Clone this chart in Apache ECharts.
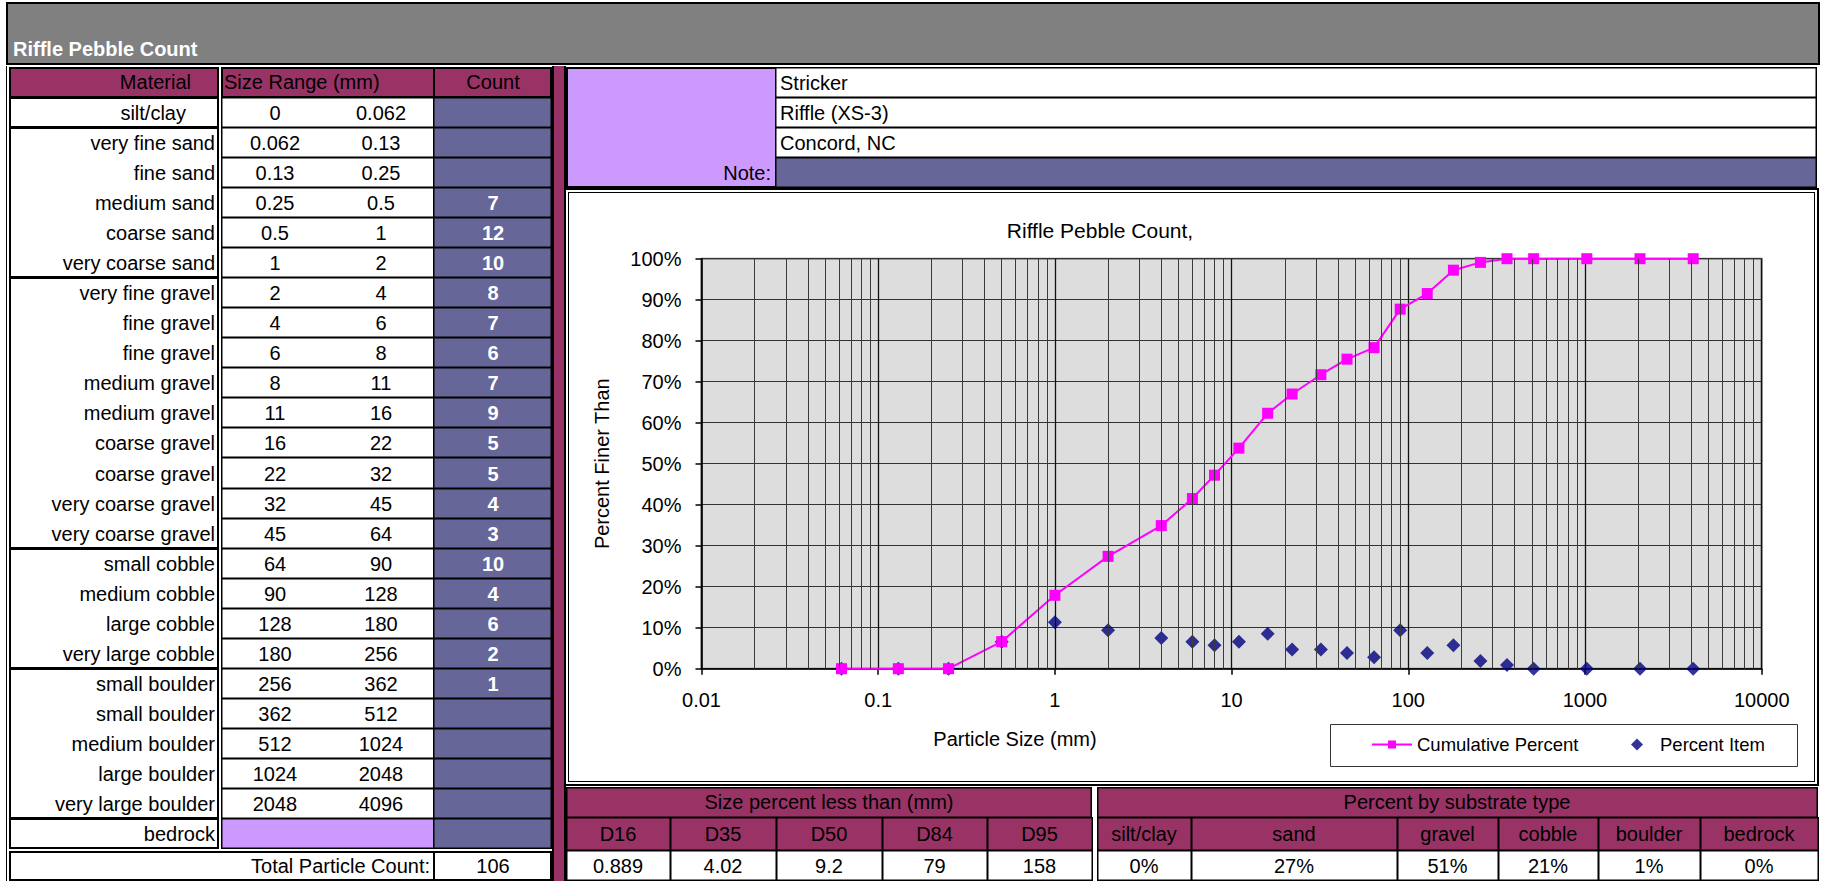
<!DOCTYPE html>
<html>
<head>
<meta charset="utf-8">
<title>Riffle Pebble Count</title>
<script src="https://cdn.jsdelivr.net/npm/echarts@6/dist/echarts.min.js"></script>
<style>
html,body{margin:0;padding:0;background:#fff;}
#page{position:relative;width:1826px;height:881px;overflow:hidden;font-family:'Liberation Sans',Arial,sans-serif;font-size:20px;color:#000;}
.c{position:absolute;box-sizing:border-box;box-shadow:inset 0 0 0 1px #000;}
.t{position:absolute;white-space:nowrap;line-height:1;}
#chart{position:absolute;left:0;top:0;width:1826px;height:881px;z-index:5;}
</style>
</head>
<body>
<div id="page"><div id="chart"></div></div>
<script>
// ---------------- DATA ----------------
const sheetTitle = 'Riffle Pebble Count';
const materials = ['silt/clay','very fine sand','fine sand','medium sand','coarse sand','very coarse sand',
  'very fine gravel','fine gravel','fine gravel','medium gravel','medium gravel','coarse gravel','coarse gravel',
  'very coarse gravel','very coarse gravel','small cobble','medium cobble','large cobble','very large cobble',
  'small boulder','small boulder','medium boulder','large boulder','very large boulder','bedrock'];
const sizeMin = ['0','0.062','0.13','0.25','0.5','1','2','4','6','8','11','16','22','32','45','64','90','128','180','256','362','512','1024','2048'];
const sizeMax = ['0.062','0.13','0.25','0.5','1','2','4','6','8','11','16','22','32','45','64','90','128','180','256','362','512','1024','2048','4096'];
const counts = ['','','','7','12','10','8','7','6','7','9','5','5','4','3','10','4','6','2','1','','','','',''];
const totalCount = '106';
const infoLines = ['Stricker','Riffle (XS-3)','Concord, NC'];
const dLabels = ['D16','D35','D50','D84','D95'];
const dValues = ['0.889','4.02','9.2','79','158'];
const substrateLabels = ['silt/clay','sand','gravel','cobble','boulder','bedrock'];
const substrateValues = ['0%','27%','51%','21%','1%','0%'];

// chart data
const particleSize = [0.062,0.13,0.25,0.5,1,2,4,6,8,11,16,22,32,45,64,90,128,180,256,362,512,1024,2048,4096];
const cumulativePercent = [0,0,0,6.6,17.9,27.4,34.9,41.5,47.2,53.8,62.3,67.0,71.7,75.5,78.3,87.7,91.5,97.2,99.1,100,100,100,100,100];
const percentItem = [0,0,0,6.6,11.3,9.4,7.5,6.6,5.7,6.6,8.5,4.7,4.7,3.8,2.8,9.4,3.8,5.7,1.9,0.9,0,0,0,0];
const chartTitle = 'Riffle Pebble Count,';
const xTitle = 'Particle Size (mm)';
const yTitle = 'Percent Finer Than';
const seriesNames = ['Cumulative Percent','Percent Item'];
const xTickLabels = ['0.01','0.1','1','10','100','1000','10000'];
const minorMultipliers = [2,3,4,5,6,7,8,9];

// ---------------- SPREADSHEET (HTML) ----------------
const MAROON='#993366', BLUE='#666699', LAV='#CC99FF', GRAY='#808080';
const page = document.getElementById('page');
function rect(x,y,w,h,bg,extra){
  const d=document.createElement('div'); d.className='c';
  Object.assign(d.style,{left:x+'px',top:y+'px',width:w+'px',height:h+'px',background:bg||'transparent'});
  if(extra) Object.assign(d.style,extra);
  page.appendChild(d); return d;
}
function text(str,x,y,align,style){
  const d=document.createElement('div'); d.className='t'; d.textContent=str;
  const tx = align==='center'?'-50%':(align==='right'?'-100%':'0');
  Object.assign(d.style,{left:x+'px',top:y+'px',transform:'translate('+tx+',-50%)'}, style||{});
  page.appendChild(d); return d;
}
// title bar
rect(6,2,1814,63,GRAY,{boxShadow:'inset 0 0 0 2px #000'});
text(sheetTitle,13,49,'left',{color:'#fff',fontWeight:'bold'});
// outer left line + maroon separator strip
rect(6,66,1,815,'#000',{boxShadow:'none'});
rect(552,66,14,815,MAROON,{boxShadow:'inset 2px 0 0 #000, inset -2px 0 0 #000'});

// left table header
rect(9,67,210,31,MAROON,{boxShadow:'inset 0 0 0 2px #000'});
rect(221,67,214,31,MAROON,{boxShadow:'inset 0 0 0 2px #000'});
rect(433,67,119,31,MAROON,{boxShadow:'inset 0 0 0 2px #000'});
text('Material',191,82,'right');
text('Size Range (mm)',224,82,'left');
text('Count',493,82,'center');

const yB = i => 97 + i*30.04;
const groups = [[0,1],[1,6],[6,15],[15,19],[19,24],[24,25]];
groups.forEach(g=>rect(9,yB(g[0]),210,yB(g[1])-yB(g[0])+1,'#fff',{boxShadow:'inset 0 0 0 2px #000'}));
materials.forEach((m,i)=>{
  const yc = (yB(i)+yB(i+1))/2+1;
  text(m, i===0?186:215, yc, 'right');
  const h = yB(i+1)-yB(i)+1;
  if(i<sizeMin.length){
    rect(221,yB(i),214,h,'#fff',{boxShadow:'inset 0 0 0 1.5px #000'});
    text(sizeMin[i],275,yc,'center');
    text(sizeMax[i],381,yc,'center');
  } else {
    rect(221,yB(i),214,h,LAV,{boxShadow:'inset 0 0 0 1.5px #000'});
  }
  rect(433,yB(i),119,h,BLUE,{boxShadow:'inset 0 0 0 1.5px #000'});
  if(counts[i]) text(counts[i],493,yc,'center',{color:'#fff',fontWeight:'bold'});
});
// total row
rect(9,851,426,30,'#fff',{boxShadow:'inset 0 0 0 2px #000'});
rect(433,851,119,30,'#fff',{boxShadow:'inset 0 0 0 2px #000'});
text('Total Particle Count:',430,866,'right');
text(totalCount,493,866,'center');

// right info block
rect(566,67,211,121,LAV,{boxShadow:'inset 0 0 0 2px #000'});
infoLines.forEach((s,i)=>{
  rect(775,67+i*30,1042,31,'#fff',{boxShadow:'inset 0 0 0 1.5px #000'});
  text(s,780,82+i*30+1,'left');
});
rect(775,157,1042,31,BLUE,{boxShadow:'inset 0 0 0 1.5px #000'});
text('Note:',771,173,'right');

// chart frame
rect(564,188,1255,598,'#fff',{boxShadow:'inset 0 0 0 2px #000, inset 0 0 0 4px #fff, inset 0 0 0 5px #000'});

// bottom stats tables
rect(566,787,526,31,MAROON,{boxShadow:'inset 0 0 0 1.5px #000'});
text('Size percent less than (mm)',829,802,'center');
const dB=[566,670,776,882,987,1092];
dLabels.forEach((s,i)=>{
  rect(dB[i],817,dB[i+1]-dB[i]+1,34,MAROON,{boxShadow:'inset 0 0 0 1.5px #000'});
  text(s,(dB[i]+dB[i+1])/2,834,'center');
  rect(dB[i],850,dB[i+1]-dB[i]+1,31,'#fff',{boxShadow:'inset 0 0 0 1.5px #000'});
  text(dValues[i],(dB[i]+dB[i+1])/2,866,'center');
});
rect(1097,787,721,31,MAROON,{boxShadow:'inset 0 0 0 1.5px #000'});
text('Percent by substrate type',1457,802,'center');
const sB=[1097,1191,1397,1498,1598,1700,1818];
substrateLabels.forEach((s,i)=>{
  rect(sB[i],817,sB[i+1]-sB[i]+1,34,MAROON,{boxShadow:'inset 0 0 0 1.5px #000'});
  text(s,(sB[i]+sB[i+1])/2,834,'center');
  rect(sB[i],850,sB[i+1]-sB[i]+1,31,'#fff',{boxShadow:'inset 0 0 0 1.5px #000'});
  text(substrateValues[i],(sB[i]+sB[i+1])/2,866,'center');
});

// ---------------- CHART (ECharts) ----------------
const FONT = "'Liberation Sans', Arial, sans-serif";
const decadeStarts = xTickLabels.slice(0,-1).map(Number);
const minorGrid = [];
decadeStarts.forEach(d=>minorMultipliers.forEach(m=>minorGrid.push(+(d*m).toPrecision(3))));
const cumData = particleSize.map((x,i)=>[x,cumulativePercent[i]]);
const itemData = particleSize.map((x,i)=>[x,percentItem[i]]);
const legendText = {fontSize:18.5, color:'#000', fontFamily:FONT};

const chart = echarts.init(document.getElementById('chart'), null, {renderer:'svg'});
chart.setOption({
  animation:false,
  backgroundColor:'transparent',
  textStyle:{fontFamily:FONT},
  grid:{left:701.5, top:258.7, width:1060.2, height:410, show:true, backgroundColor:'#DDDDDD', borderColor:'#808080', borderWidth:2},
  xAxis:{
    type:'log', logBase:10, min:Number(xTickLabels[0]), max:Number(xTickLabels[xTickLabels.length-1]), splitNumber:6,
    axisLine:{show:true, onZero:false, lineStyle:{color:'#000', width:1.5}},
    axisTick:{show:true, length:6, lineStyle:{color:'#000', width:1.5}},
    axisLabel:{margin:21, fontSize:20, color:'#000', fontFamily:FONT,
      formatter:v=>String(+Number(v).toPrecision(6))},
    splitLine:{show:true, lineStyle:{color:'#111', width:1.3}}
  },
  yAxis:{
    type:'value', min:0, max:100, interval:10,
    name:yTitle, nameLocation:'middle', nameGap:90,
    nameTextStyle:{fontSize:20, color:'#000', fontFamily:FONT},
    axisLine:{show:true, lineStyle:{color:'#000', width:1.5}},
    axisTick:{show:true, length:6, lineStyle:{color:'#000', width:1.5}},
    axisLabel:{margin:20, fontSize:20, color:'#000', fontFamily:FONT, formatter:'{value}%'},
    splitLine:{show:true, lineStyle:{color:'#333', width:1.2}}
  },
  legend:[
    {data:[seriesNames[0]], left:1371, top:735, padding:0,
     itemWidth:40, itemHeight:10, textStyle:legendText, z:6},
    {data:[{name:seriesNames[1], icon:'diamond'}], left:1631, top:735, padding:0,
     itemWidth:12, itemHeight:12, textStyle:Object.assign({padding:[0,0,0,12]},legendText), z:6}
  ],
  graphic:[
    {type:'text', x:1100, y:230, style:{text:chartTitle, fontSize:21, fontFamily:FONT, fill:'#000', align:'center', verticalAlign:'middle', textAlign:'center', textVerticalAlign:'middle'}},
    {type:'text', x:1015, y:739, style:{text:xTitle, fontSize:20, fontFamily:FONT, fill:'#000', align:'center', verticalAlign:'middle', textAlign:'center', textVerticalAlign:'middle'}},
    {type:'rect', z:3, silent:true, shape:{x:1330.5, y:724.5, width:467, height:42}, style:{fill:'#fff', stroke:'#333', lineWidth:1}}
  ],
  series:[
    {type:'line', name:'minor-grid', data:[], silent:true,
      markLine:{silent:true, symbol:'none', animation:false, label:{show:false},
        lineStyle:{color:'#3a3a3a', width:1, type:'solid'},
        data:minorGrid.map(v=>({xAxis:v}))}},
    {type:'line', name:seriesNames[0], data:cumData, clip:false,
      symbol:'rect', symbolSize:11, showSymbol:true,
      lineStyle:{color:'#FF00FF', width:2}, itemStyle:{color:'#FF00FF'}},
    {type:'scatter', name:seriesNames[1], data:itemData, clip:false,
      symbol:'diamond', symbolSize:14, itemStyle:{color:'#000080'}}
  ]
});
</script>
</body>
</html>
